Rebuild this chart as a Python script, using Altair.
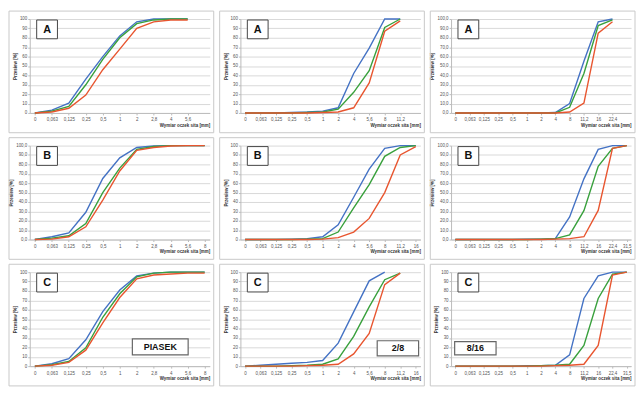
import altair as alt
import pandas as pd

# ---------------- data ----------------
CATS_SAND = ["0", "0,063", "0,125", "0,25", "0,5", "1", "2", "2,8", "4", "5,6", "8"]
CATS_28 = ["0", "0,063", "0,125", "0,25", "0,5", "1", "2", "4", "5,6", "8", "11,2", "16"]
CATS_816 = ["0", "0,063", "0,125", "0,25", "0,5", "1", "2", "4", "8", "11,2", "16", "22,4", "31,5"]

# Row A
A1_blue = [0, 3, 10.5, 36, 60, 82, 97, 100, 100, 100, None]
A1_green = [0, 2, 7, 30, 57, 80, 95, 99, 100, 100, None]
A1_red = [0, 1, 5, 19, 46, 68, 90, 97, 99, 99, None]

A2_blue = [0, 0, 0, 0.5, 1, 2, 5.5, 42, 69, 100, 100, None]
A2_green = [0, 0, 0, 0, 0.5, 1, 4, 22, 45, 91, 100, None]
A2_red = [0, 0, 0, 0, 0, 0.5, 1, 5.5, 32, 87, 98, None]

A3_blue = [0, 0, 0, 0, 0, 0, 0, 0.5, 10, 55, 97, 100, None]
A3_green = [0, 0, 0, 0, 0, 0, 0, 0, 6, 42, 93, 99, None]
A3_red = [0, 0, 0, 0, 0, 0, 0, 0, 1, 10.5, 85, 97, None]

# Row B
B1_blue = [0, 3, 7, 29, 65, 87, 98, 99.5, 100, 100, 100]
B1_green = [0, 1.5, 4, 17, 50, 76, 96, 99, 100, 100, 100]
B1_red = [0, 0.5, 3, 13.6, 42, 73, 95, 98, 99.5, 100, 100]

B2_blue = [0, 0, 0, 0.5, 1, 3, 15.6, 45, 75, 97, 100, 100]
B2_green = [0, 0, 0, 0, 0.5, 1, 8, 33.6, 58.5, 88.6, 98, 100]
B2_red = [0, 0, 0, 0, 0, 0.5, 2, 8, 22.5, 50, 90, 99]

B3_blue = [0, 0, 0, 0, 0, 0.5, 0.5, 1, 24, 64.6, 96, 100, 100]
B3_green = [0, 0, 0, 0, 0, 0, 0.5, 1, 5, 30.8, 78, 97, 100]
B3_red = [0, 0, 0, 0, 0, 0, 0, 0.5, 1, 3, 31, 97, 100]

# Row C
C1_blue = [0, 2.5, 8, 28, 58, 81, 96, 99, 100, 100, 100]
C1_green = [0, 1.5, 5, 19.5, 52, 77, 95, 99, 100, 100, 100]
C1_red = [0, 1, 4, 17, 46, 73, 93, 97, 98, 99, 99]

C2_blue = [0, 1, 2, 3, 4, 6, 24.5, 57.7, 90.8, 100, None, None]
C2_green = [0, 0, 0, 0.5, 1, 2, 7.7, 31.6, 63, 92, 99, None]
C2_red = [0, 0, 0, 0, 0.5, 1, 2, 13, 34.7, 86.8, 99, None]

C3_blue = [0, 0, 0, 0, 0, 0.5, 0.5, 1, 12, 72, 96, 100, 100]
C3_green = [0, 0, 0, 0, 0, 0, 0.5, 1, 2, 22, 72, 98, 100]
C3_red = [0, 0, 0, 0, 0, 0, 0, 0.5, 1, 2, 22, 97, 100]

LETTERS = ["A", "B", "C"]
TAGS = ["PIASEK", "2/8", "8/16"]
SERIES = ["blue", "green", "red"]
COLORS = ["#4472C4", "#38A03C", "#E8552F"]

Y_TITLE = "Przesiew [%]"
X_TITLE = "Wymiar oczek sita [mm]"

PANELS = [
    [(CATS_SAND, CATS_SAND[:10], A1_blue, A1_green, A1_red, False),
     (CATS_28, CATS_28[:11], A2_blue, A2_green, A2_red, False),
     (CATS_816, CATS_816[:12], A3_blue, A3_green, A3_red, True)],
    [(CATS_SAND, CATS_SAND, B1_blue, B1_green, B1_red, True),
     (CATS_28, CATS_28, B2_blue, B2_green, B2_red, False),
     (CATS_816, CATS_816, B3_blue, B3_green, B3_red, True)],
    [(CATS_SAND, CATS_SAND, C1_blue, C1_green, C1_red, False),
     (CATS_28, CATS_28, C2_blue, C2_green, C2_red, False),
     (CATS_816, CATS_816, C3_blue, C3_green, C3_red, False)],
]

# tag box placement (fractions of plot area) for bottom row
TAG_POS = [(0.57, 0.88, 0.71, 0.88), (0.76, 0.99, 0.73, 0.89), (0.02, 0.25, 0.74, 0.88)]

W, H = 182, 95
FONT = "Liberation Sans"


def panel(row, col):
    cats, shown, blue, green, red, dec = PANELS[row][col]
    recs = []
    for s, vals in zip(SERIES, (blue, green, red)):
        for i, (c, v) in enumerate(zip(cats, vals)):
            if v is not None:
                recs.append({"cat": c, "val": v, "series": s, "idx": i})
    df = pd.DataFrame(recs)

    if dec:
        lab = "replace(format(datum.value, '.1f'), '.', ',')"
    else:
        lab = "format(datum.value, 'd')"

    frame = alt.Chart(pd.DataFrame({"k": [0]})).mark_rect(
        fillOpacity=0, stroke="#c8c8c8", strokeWidth=1
    ).encode(x=alt.value(-21), x2=alt.value(W + 4), y=alt.value(-8), y2=alt.value(H + 20))

    lines = alt.Chart(df).mark_line(strokeWidth=1.4).encode(
        x=alt.X(
            "cat:N",
            scale=alt.Scale(type="point", domain=cats, padding=0.3),
            axis=alt.Axis(
                title=X_TITLE, values=shown, labelAngle=0, labelFontSize=4.5,
                labelColor="#555", labelFont=FONT, titleFont=FONT,
                titleFontSize=4.5, titleColor="#333", titleAnchor="end",
                titlePadding=1, domainColor="#bbb", tickColor="#bbb", tickSize=2,
                labelPadding=2,
            ),
        ),
        y=alt.Y(
            "val:Q",
            scale=alt.Scale(domain=[0, 100], nice=False),
            axis=alt.Axis(
                title=Y_TITLE, values=list(range(0, 101, 10)), labelExpr=lab,
                labelFontSize=4.5, labelColor="#555", labelFont=FONT,
                titleFont=FONT, titleFontSize=4.5, titleColor="#333",
                titlePadding=2, gridColor="#d9d9d9", domainColor="#bbb",
                tickColor="#bbb", tickSize=2, labelPadding=1,
            ),
        ),
        color=alt.Color("series:N", scale=alt.Scale(domain=SERIES, range=COLORS), legend=None),
        order="idx:Q",
    )

    lbl = pd.DataFrame({"t": [LETTERS[row]]})
    lbox = alt.Chart(lbl).mark_rect(fill="white", stroke="#444", strokeWidth=1).encode(
        x=alt.value(7), x2=alt.value(28), y=alt.value(1), y2=alt.value(20))
    ltxt = alt.Chart(lbl).mark_text(fontSize=11, fontWeight="bold", font=FONT, color="#111").encode(
        x=alt.value(17.5), y=alt.value(11), text="t:N")

    layers = [frame, lines, lbox, ltxt]
    if row == 2:
        x0, x1, y0, y1 = TAG_POS[col]
        tg = pd.DataFrame({"t": [TAGS[col]]})
        tbox = alt.Chart(tg).mark_rect(fill="white", stroke="#666", strokeWidth=1.2).encode(
            x=alt.value(x0 * W), x2=alt.value(x1 * W), y=alt.value(y0 * H), y2=alt.value(y1 * H))
        ttxt = alt.Chart(tg).mark_text(fontSize=9, fontWeight="bold", font=FONT, color="#111").encode(
            x=alt.value((x0 + x1) / 2 * W), y=alt.value((y0 + y1) / 2 * H), text="t:N")
        layers += [tbox, ttxt]
    return alt.layer(*layers).properties(width=W, height=H)


rows = [alt.hconcat(*[panel(r, c) for c in range(3)], spacing=4) for r in range(3)]
chart = alt.vconcat(*rows, spacing=3).properties(padding=0).configure_view(stroke=None)

chart.save("out.html", embed_options={"renderer": "svg", "actions": False})
